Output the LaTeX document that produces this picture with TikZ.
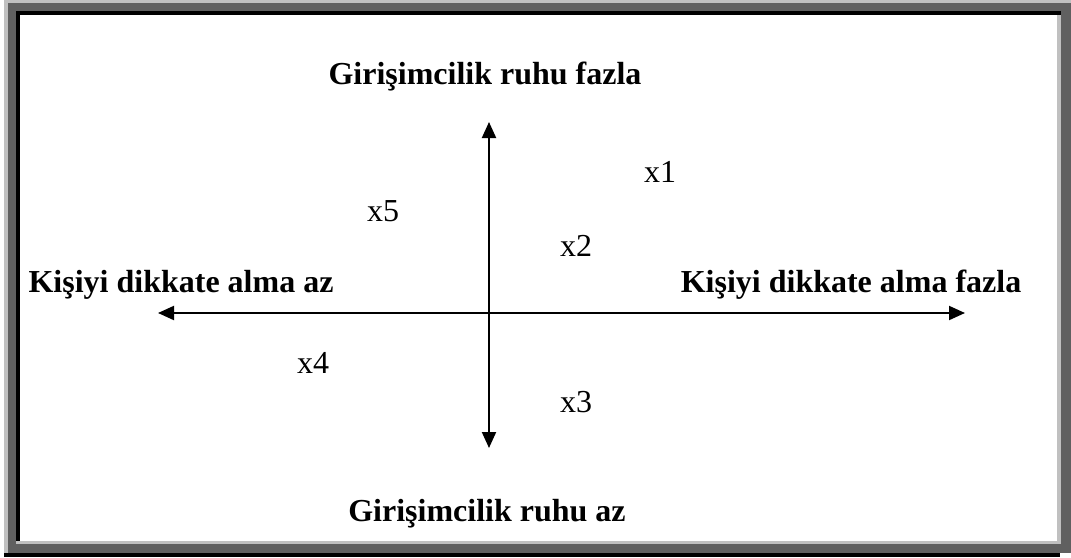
\documentclass[tikz,border=0pt]{standalone}
\usepackage{fontspec}
\setmainfont{Liberation Serif}
\usepackage{tikz}
\usetikzlibrary{arrows.meta}
\definecolor{framelight}{HTML}{C0C0C0}
\definecolor{framedark}{HTML}{606060}

\begin{document}
\begin{tikzpicture}[x=1pt,y=-1pt, every node/.style={font=\fontsize{32}{38}\selectfont,inner sep=0pt}, axislabel/.style={font=\fontsize{32}{38}\selectfont\bfseries,anchor=base}, point/.style={anchor=center}, axis/.style={line width=2pt,{Triangle[length=16pt,width=14pt]}-{Triangle[length=16pt,width=14pt]}}]
\useasboundingbox (0,0) rectangle (1071,557);
% frame
\fill[white] (0,0) rectangle (1071,557);
\fill[framelight] (4,0) rectangle (1071,553);
\fill[framedark] (8,3) rectangle (1071,553);
\fill[black] (4,553) rectangle (1060,557);
\fill[framelight] (16,11) rectangle (1061,544);
\fill[black] (16,11) rectangle (1061,15);
\fill[black] (16,11) rectangle (20,541);
\fill[white] (20,15) rectangle (1057,541);
% labels
\node[axislabel] (gtop) at (485,84) {Girişimcilik ruhu fazla};
\node[axislabel] (gbot) at (487,521) {Girişimcilik ruhu az};
\node[axislabel] (kleft) at (181,292) {Kişiyi dikkate alma az};
\node[axislabel] (kright) at (851,292) {Kişiyi dikkate alma fazla};
% axes
\coordinate (n) at (489,122);
\coordinate (s) at (489,448);
\coordinate (w) at (158,313);
\coordinate (e) at (965,313);
\draw[axis] (s) -- (n);
\draw[axis] (w) -- (e);
% points
\foreach \i/\x/\y in {1/660/172,2/576/246,3/576/402,4/313/363,5/383/211}{\node[point] (x\i) at (\x,\y) {x\i};}
\end{tikzpicture}
\end{document}
